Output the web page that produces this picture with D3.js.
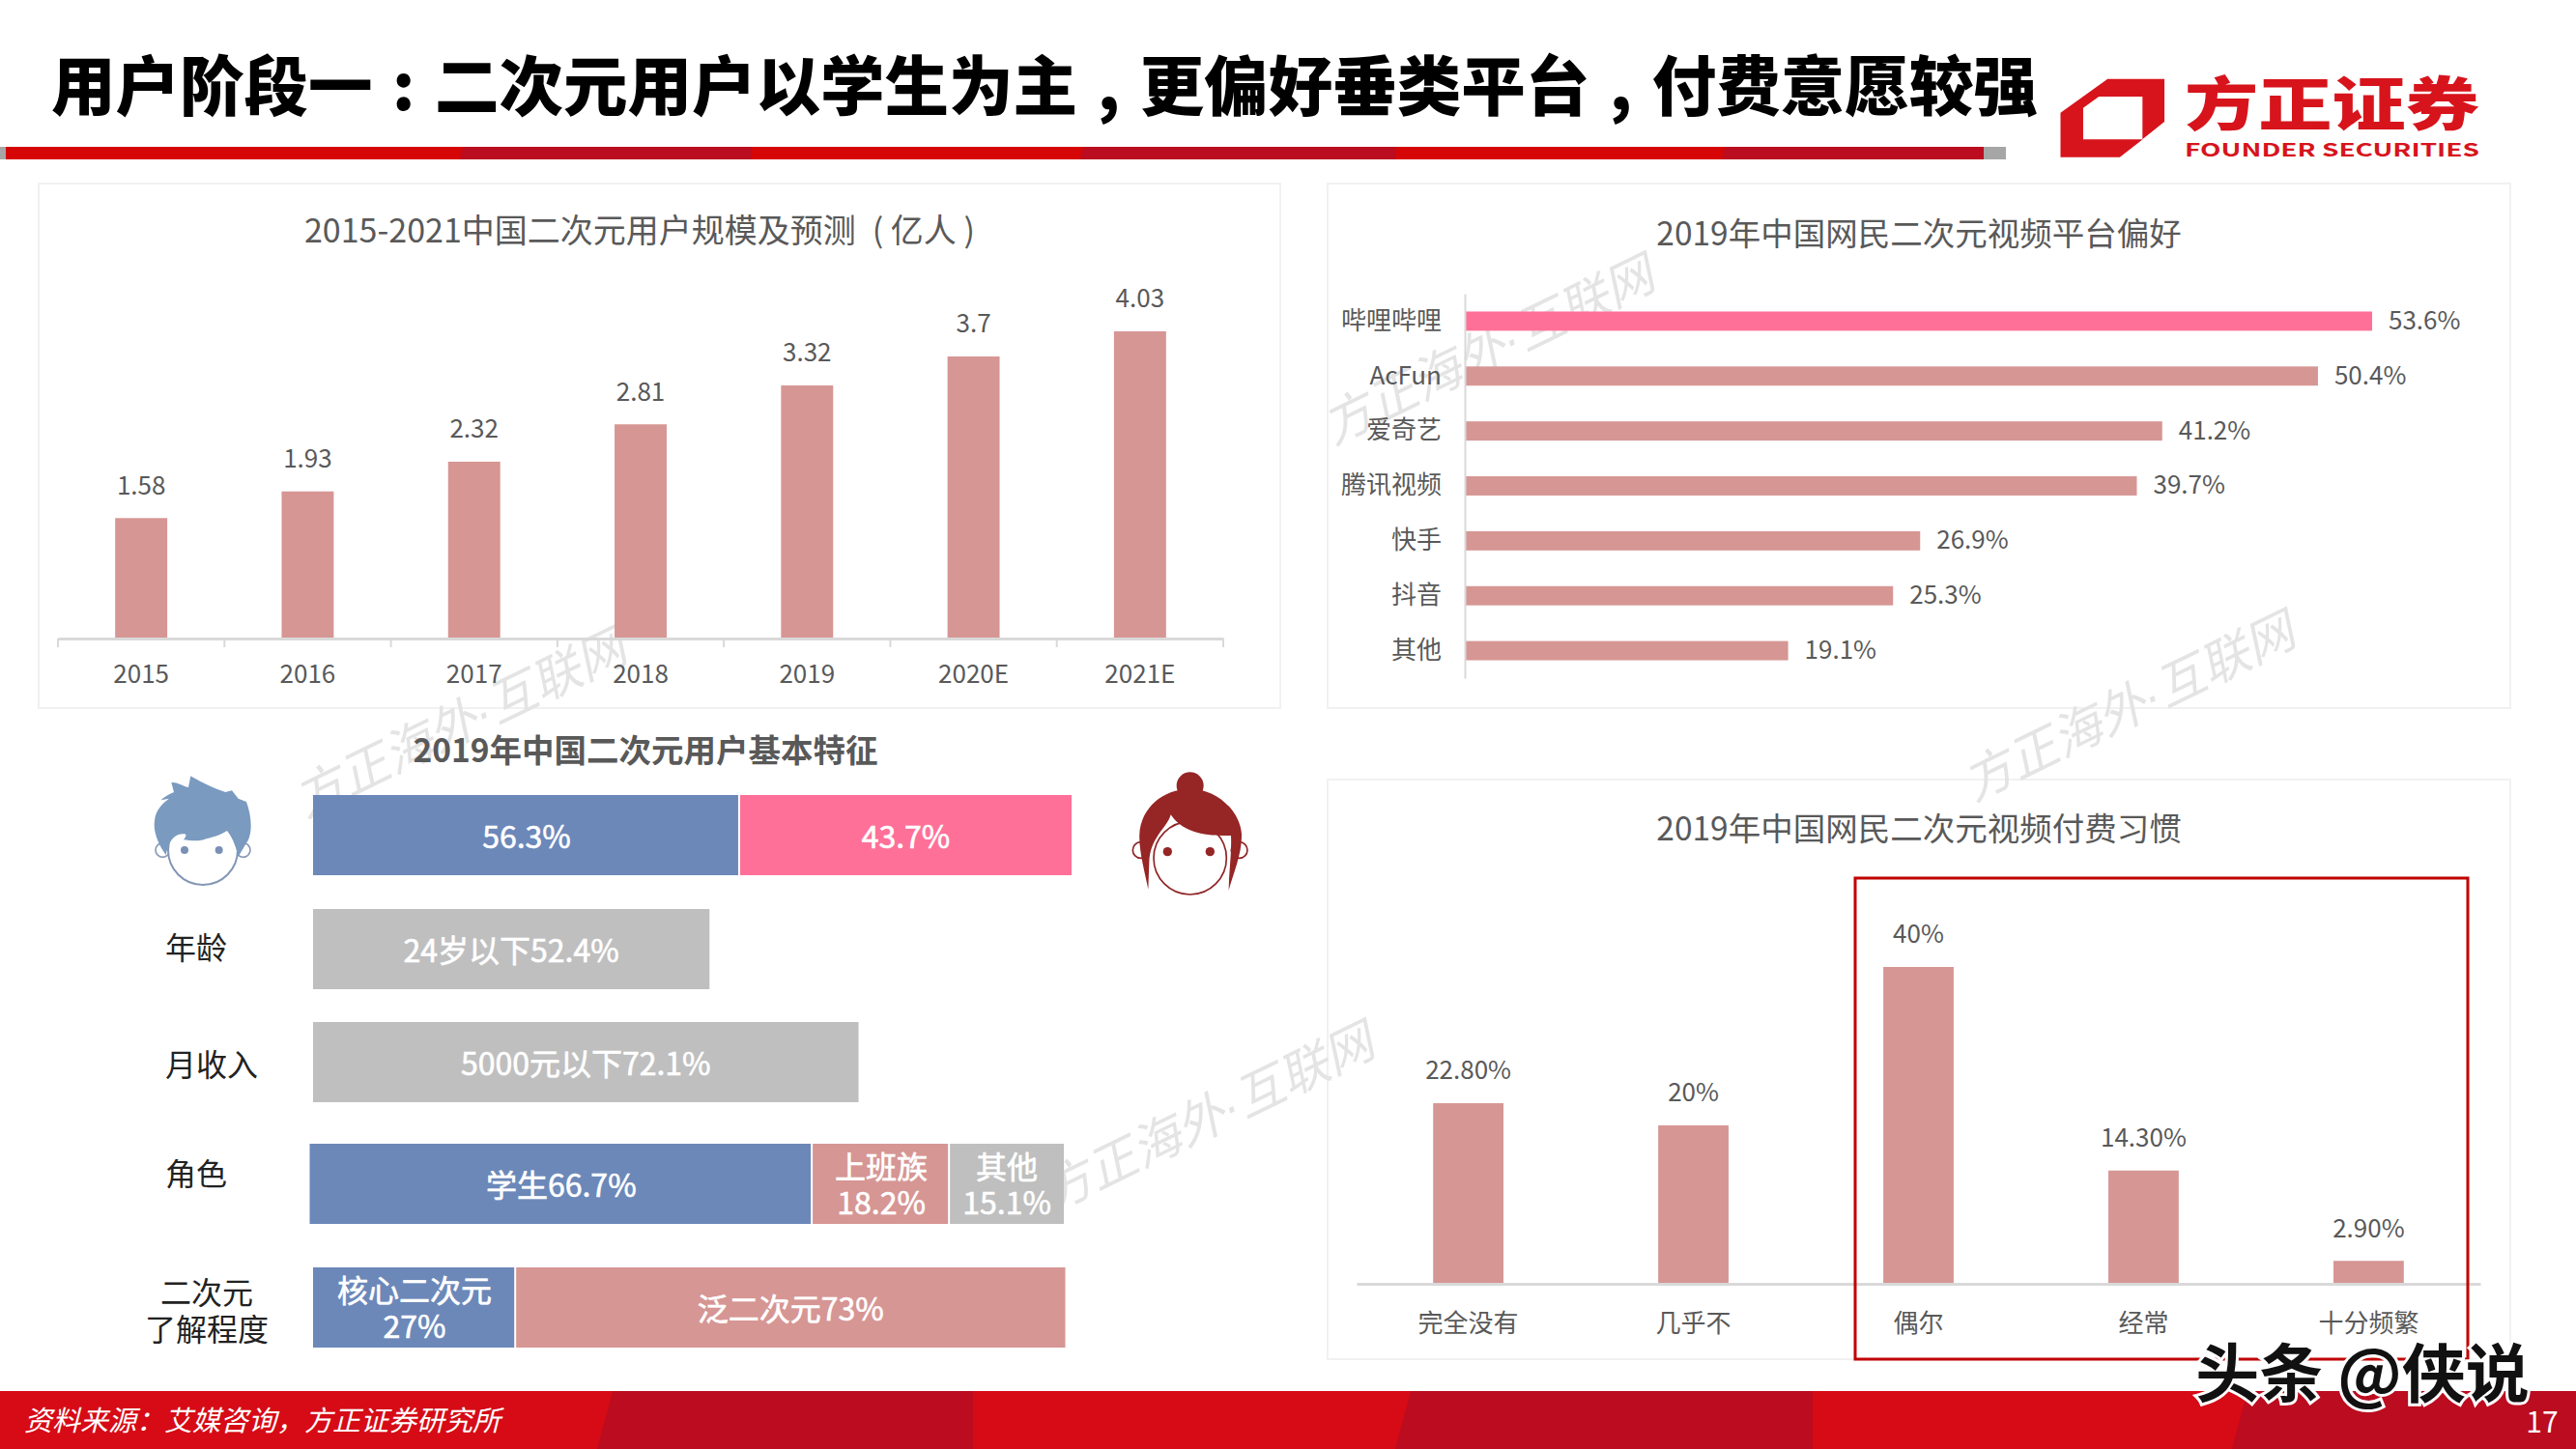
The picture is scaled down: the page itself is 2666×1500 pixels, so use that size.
<!DOCTYPE html>
<html>
<head>
<meta charset="utf-8">
<script src="https://cdn.jsdelivr.net/npm/d3@7/dist/d3.min.js"></script>
<style>
    html, body { margin: 0; padding: 0; background: #fff; }
    svg { display: block; }
    text { font-family: "Noto Sans CJK SC", "Noto Sans", sans-serif; }
</style>
</head>
<body>
<svg id="slide" width="2666" height="1500"></svg>
<script>
// slide title, cut at the punctuation
var titleParts = ["用户阶段一", ":", "二次元用户以学生为主", ",", "更偏好垂类平台", ",", "付费意愿较强"];

// chart 1 - user scale
var scaleYears = ["2015", "2016", "2017", "2018", "2019", "2020E", "2021E"];
var scaleValues = [1.58, 1.93, 2.32, 2.81, 3.32, 3.7, 4.03];

// chart 2 - platform preference
var platformNames = ["哔哩哔哩", "AcFun", "爱奇艺", "腾讯视频", "快手", "抖音", "其他"];
var platformValues = [53.6, 50.4, 41.2, 39.7, 26.9, 25.3, 19.1];

// chart 3 - paying habit
var payNames = ["完全没有", "几乎不", "偶尔", "经常", "十分频繁"];
var payValues = [22.8, 20, 40, 14.3, 2.9];
var payLabels = ["22.80%", "20%", "40%", "14.30%", "2.90%"];

// user profile rows
var profileRows = ["性别", "年龄", "月收入", "角色", "二次元了解程度"];
var genderValues = [56.3, 43.7];
var genderLabels = [["56.3%"], ["43.7%"]];
var ageValues = [52.4];
var ageLabels = [["24岁以下52.4%"]];
var incomeValues = [72.1];
var incomeLabels = [["5000元以下72.1%"]];
var roleValues = [66.7, 18.2, 15.1];
var roleLabels = [["学生66.7%"], ["上班族", "18.2%"], ["其他", "15.1%"]];
var fanValues = [27, 73];
var fanLabels = [["核心二次元", "27%"], ["泛二次元73%"]];

var BAR_PINK = "#d69694";
var BLUE = "#6c88b9";
var HOT_PINK = "#ff7099";
var GREY = "#bfbfbf";
var TEXT = "#595959";
var AXIS = "#d9d9d9";
var RED = "#d60b16";
var DARK_RED = "#bb0c20";

var svg = d3.select("#slide");

function label(parent, x, y, str, size, color, anchor, weight) {
    return parent.append("text")
        .attr("x", x)
        .attr("y", y)
        .attr("dy", "0.36em")
        .attr("font-size", size)
        .attr("fill", color)
        .attr("text-anchor", anchor || "middle")
        .attr("font-weight", weight || 400)
        .text(str);
}

function styleAxis(axisG) {
    axisG.select(".domain").attr("stroke", AXIS).attr("stroke-width", 3);
    axisG.selectAll("text")
        .attr("font-size", 26)
        .attr("font-family", '"Noto Sans CJK SC"')
        .attr("fill", TEXT);
}

// darker band pieces: slanted on the left edge, straight on the right
function drawBands(parent, top, bottom, pieces) {
    parent.selectAll("polygon.band" + top)
        .data(pieces)
        .enter().append("polygon")
        .attr("class", "band" + top)
        .attr("fill", function(d) { return d[2]; })
        .attr("points", function(d) {
            var skew = (bottom - top) * 0.27;
            return [[d[0] + skew, top], [d[1], top], [d[1], bottom], [d[0], bottom]].join(" ");
        });
}

function drawHeader() {
    var title = label(svg, 53, 90, "", 66.5, "#000", "start", 900);
    titleParts.forEach(function(part, i) {
        title.append("tspan")
            .attr("dx", i > 0 ? "0.31em" : 0)
            .text(part);
    });

    svg.append("rect").attr("x", 0).attr("y", 152).attr("width", 2076).attr("height", 13).attr("fill", "#a6a6a6");
    svg.append("rect").attr("x", 6).attr("y", 152).attr("width", 2047).attr("height", 13).attr("fill", "#d60606");
    drawBands(svg, 152, 165, [[476, 778, DARK_RED], [1118, 1445, DARK_RED], [1782, 2053, DARK_RED]]);

    // logo
    var logo = svg.append("g").attr("transform", "translate(2100,50) scale(0.361,0.3333)");
    logo.append("path")
        .attr("fill", "#d7141c")
        .attr("fill-rule", "evenodd")
        .attr("d", "M90,200 L225,95 L388,95 L388,230 L260,338 L90,338 Z M155,185 L200,150 L325,150 L325,283 L155,283 Z");
    logo.append("path").attr("fill", "#fff").attr("d", "M325,283 L388,228 L388,236 L325,290 Z");

    label(svg, 2261, 108, "方正证券", 60, "#d7141c", "start", 900)
        .attr("textLength", 305)
        .attr("lengthAdjust", "spacingAndGlyphs");
    label(svg, 2261, 155, "FOUNDER SECURITIES", 19, "#d7141c", "start", 700)
        .attr("font-family", '"Liberation Sans"')
        .attr("textLength", 305)
        .attr("lengthAdjust", "spacingAndGlyphs");
}

function drawCards() {
    var cards = [[40, 190, 1285, 543], [1374, 190, 1224, 543], [1374, 807, 1224, 600]];
    svg.selectAll("rect.card")
        .data(cards)
        .enter().append("rect")
        .attr("class", "card")
        .attr("x", function(d) { return d[0]; })
        .attr("y", function(d) { return d[1]; })
        .attr("width", function(d) { return d[2]; })
        .attr("height", function(d) { return d[3]; })
        .attr("fill", "none")
        .attr("stroke", "#f1f1f1")
        .attr("stroke-width", 2);
}

function drawWatermarks() {
    var spots = [[1540, 362], [476, 748], [2203, 731], [1250, 1156]];
    var marks = svg.selectAll("text.mark")
        .data(spots)
        .enter().append("text")
        .attr("class", "mark")
        .attr("text-anchor", "middle")
        .attr("dy", "0.36em")
        .attr("font-size", 51)
        .attr("font-style", "italic")
        .attr("fill", "#e4e4e4")
        .attr("transform", function(d) { return "translate(" + d[0] + "," + d[1] + ") rotate(-26)"; });
    marks.append("tspan").text("方正海外");
    // the dot is narrow in the original, the CJK one is full width
    marks.append("tspan").attr("font-family", '"Liberation Sans"').text("·");
    marks.append("tspan").text("互联网");
}

function drawScaleChart() {
    var height = 661;
    var x = d3.scaleBand().domain(scaleYears).range([60, 1266]).paddingInner(0.687).paddingOuter(0.3435);
    var y = d3.scaleLinear().domain([0, 4.03]).range([height, 343]);
    var step = x.step();

    label(svg, 662, 239, "2015-2021中国二次元用户规模及预测\u2002(\u00a0亿人\u00a0)", 34, TEXT);

    svg.selectAll("rect.scale-bar")
        .data(scaleValues)
        .enter().append("rect")
        .attr("class", "scale-bar")
        .attr("x", function(d, i) { return x(scaleYears[i]); })
        .attr("width", x.bandwidth())
        .attr("y", function(d) { return y(d); })
        .attr("height", function(d) { return height - y(d); })
        .attr("fill", BAR_PINK);

    scaleValues.forEach(function(d, i) {
        label(svg, x(scaleYears[i]) + x.bandwidth() / 2, y(d) - 34, String(d), 26, TEXT);
    });

    var axisG = svg.append("g")
        .attr("transform", "translate(0," + height + ")")
        .call(d3.axisBottom(x).tickSize(0).tickPadding(33));
    styleAxis(axisG);
    axisG.selectAll("text").attr("dy", "0.5em");

    // ticks sit on the band edges, not the centres
    axisG.selectAll("line.edge")
        .data(d3.range(scaleYears.length + 1))
        .enter().append("line")
        .attr("class", "edge")
        .attr("x1", function(d) { return 60 + d * step; })
        .attr("x2", function(d) { return 60 + d * step; })
        .attr("y1", 0)
        .attr("y2", 9)
        .attr("stroke", AXIS)
        .attr("stroke-width", 2);
}

function drawPlatformChart() {
    var left = 1516;
    var y = d3.scaleBand().domain(platformNames).range([304, 702]).paddingInner(0.65).paddingOuter(0.325);
    var x = d3.scaleLinear().domain([0, 53.6]).range([left, 2455]);

    label(svg, 1986, 242, "2019年中国网民二次元视频平台偏好", 33.5, TEXT);

    svg.selectAll("rect.platform-bar")
        .data(platformValues)
        .enter().append("rect")
        .attr("class", "platform-bar")
        .attr("x", left)
        .attr("y", function(d, i) { return y(platformNames[i]); })
        .attr("width", function(d) { return x(d) - left; })
        .attr("height", y.bandwidth())
        .attr("fill", function(d, i) { return i === 0 ? HOT_PINK : BAR_PINK; });

    platformValues.forEach(function(d, i) {
        label(svg, x(d) + 17, y(platformNames[i]) + y.bandwidth() / 2 - 1, d.toFixed(1) + "%", 26, TEXT, "start");
    });

    var axisG = svg.append("g")
        .attr("transform", "translate(" + left + ",0)")
        .call(d3.axisLeft(y).tickSize(0).tickPadding(24));
    styleAxis(axisG);
    axisG.select(".domain").attr("stroke-width", 2);
}

function drawPayChart() {
    var height = 1329;
    var x = d3.scaleBand().domain(payNames).range([1404, 2567]).paddingInner(0.6875).paddingOuter(0.34);
    var y = d3.scaleLinear().domain([0, 40]).range([height, 1001]);

    label(svg, 1986, 858, "2019年中国网民二次元视频付费习惯", 33.5, TEXT);

    svg.selectAll("rect.pay-bar")
        .data(payValues)
        .enter().append("rect")
        .attr("class", "pay-bar")
        .attr("x", function(d, i) { return x(payNames[i]); })
        .attr("width", x.bandwidth())
        .attr("y", function(d) { return y(d); })
        .attr("height", function(d) { return height - y(d); })
        .attr("fill", BAR_PINK);

    payValues.forEach(function(d, i) {
        label(svg, x(payNames[i]) + x.bandwidth() / 2, y(d) - 34, payLabels[i], 26, TEXT);
    });

    var axisG = svg.append("g")
        .attr("transform", "translate(0," + height + ")")
        .call(d3.axisBottom(x).tickSize(0).tickPadding(37));
    styleAxis(axisG);
    axisG.selectAll("text").attr("dy", "0.5em");

    svg.append("rect")
        .attr("x", 1920)
        .attr("y", 909)
        .attr("width", 634)
        .attr("height", 498)
        .attr("fill", "none")
        .attr("stroke", "#c00000")
        .attr("stroke-width", 3);
}

function drawProfile() {
    // the original rows are hand placed, so each one has its own start and length
    var rowTop = d3.scaleOrdinal().domain(profileRows).range([823, 941, 1058, 1184, 1312]);
    var rowLeft = d3.scaleOrdinal().domain(profileRows).range([324, 324, 324, 320.5, 324]);
    var rowWidth = d3.scaleOrdinal().domain(profileRows).range([785, 783, 783, 780.5, 778.5]);
    var barHeight = 83;

    var rows = [
        { name: profileRows[0], values: genderValues, labels: genderLabels, colors: [BLUE, HOT_PINK] },
        { name: profileRows[1], values: ageValues, labels: ageLabels, colors: [GREY] },
        { name: profileRows[2], values: incomeValues, labels: incomeLabels, colors: [GREY] },
        { name: profileRows[3], values: roleValues, labels: roleLabels, colors: [BLUE, BAR_PINK, GREY] },
        { name: profileRows[4], values: fanValues, labels: fanLabels, colors: [BLUE, BAR_PINK] }
    ];

    label(svg, 668, 777, "2019年中国二次元用户基本特征", 33.5, TEXT, "middle", 700);

    rows.forEach(function(row) {
        var left = rowLeft(row.name);
        var top = rowTop(row.name);
        var x = d3.scaleLinear().domain([0, 100]).range([left, left + rowWidth(row.name)]);
        var sum = 0;
        row.values.forEach(function(v, i) {
            var start = x(sum);
            var w = x(sum + v) - start;
            sum += v;
            svg.append("rect")
                .attr("x", start)
                .attr("y", top)
                .attr("width", i < row.values.length - 1 ? w - 2 : w)
                .attr("height", barHeight)
                .attr("fill", row.colors[i]);

            var lines = row.labels[i];
            lines.forEach(function(str, k) {
                var cy = top + barHeight / 2 + 1.5 + (k - (lines.length - 1) / 2) * 37;
                label(svg, start + w / 2, cy, str, 32, "#fff")
                    .attr("stroke", "#fff")
                    .attr("stroke-width", 0.6);
            });
        });
    });

    var names = [["年龄", 171, 981, "start"], ["月收入", 171, 1102, "start"], ["角色", 171, 1215, "start"],
        ["二次元", 214, 1338, "middle"], ["了解程度", 214, 1376, "middle"]];
    names.forEach(function(d) {
        label(svg, d[1], d[2], d[0], 32, "#222", d[3]);
    });
}

function drawFaces() {
    var boy = svg.append("g").attr("transform", "translate(100,770) scale(0.3333)");
    boy.selectAll("circle.ear")
        .data([205, 455])
        .enter().append("circle")
        .attr("class", "ear")
        .attr("cx", function(d) { return d; })
        .attr("cy", 330)
        .attr("r", 22)
        .attr("fill", "#fff")
        .attr("stroke", "#8a9ab8")
        .attr("stroke-width", 5);
    boy.append("circle").attr("cx", 330).attr("cy", 330).attr("r", 108)
        .attr("fill", "#fff").attr("stroke", "#8296b5").attr("stroke-width", 6);
    boy.append("path")
        .attr("fill", "#7a9abf")
        .attr("d", "M215,345 C190,310 175,270 180,240 C182,205 205,185 225,170 L200,175 C215,160 230,155 240,150 L232,120 C250,118 265,130 285,135 L292,100 C310,110 340,130 400,150 L420,145 L440,170 L465,180 C480,220 485,270 470,300 L440,350 C430,310 420,290 405,270 C380,285 360,290 340,295 C320,305 290,300 270,298 C280,285 280,280 270,280 C240,280 225,300 215,345 Z");
    boy.selectAll("circle.eye")
        .data([273, 380])
        .enter().append("circle")
        .attr("class", "eye")
        .attr("cx", function(d) { return d; })
        .attr("cy", 330)
        .attr("r", 12)
        .attr("fill", "#7a90b5");

    var girl = svg.append("g").attr("transform", "translate(1120,770) scale(0.3333)");
    girl.selectAll("circle.ear")
        .data([182, 488])
        .enter().append("circle")
        .attr("class", "ear")
        .attr("cx", function(d) { return d; })
        .attr("cy", 330)
        .attr("r", 25)
        .attr("fill", "#fff")
        .attr("stroke", "#8f2323")
        .attr("stroke-width", 5);
    girl.append("circle").attr("cx", 335).attr("cy", 355).attr("r", 113)
        .attr("fill", "#fff").attr("stroke", "#8f2323").attr("stroke-width", 5);
    girl.append("circle").attr("cx", 335).attr("cy", 130).attr("r", 42).attr("fill", "#962525");
    girl.append("path")
        .attr("fill", "#962525")
        .attr("d", "M205,452 C195,400 175,330 178,280 C182,200 250,140 335,140 C420,140 490,210 495,280 C497,340 470,400 455,455 C455,400 465,340 462,285 C420,285 320,290 275,220 C265,260 210,290 208,370 Z");
    girl.selectAll("circle.eye")
        .data([265, 397])
        .enter().append("circle")
        .attr("class", "eye")
        .attr("cx", function(d) { return d; })
        .attr("cy", 335)
        .attr("r", 14)
        .attr("fill", "#962525");
}

function drawFooter() {
    svg.append("rect").attr("x", 0).attr("y", 1440).attr("width", 2666).attr("height", 60).attr("fill", RED);
    drawBands(svg, 1440, 1500, [[618, 1007, DARK_RED], [1444, 1876, DARK_RED], [2310, 2666, DARK_RED]]);

    label(svg, 25, 1471, "资料来源：艾媒咨询，方正证券研究所", 29, "#fff", "start")
        .attr("font-style", "italic");
    label(svg, 2631, 1472, "17", 30, "#fff");

    // site stamp over the footer
    label(svg, 2445, 1422, "头条 @侠说", 66, "#111", "middle", 700)
        .attr("stroke", "#fff")
        .attr("stroke-width", 6)
        .attr("paint-order", "stroke");
}

drawCards();
drawWatermarks();
drawHeader();
drawScaleChart();
drawPlatformChart();
drawPayChart();
drawProfile();
drawFaces();
drawFooter();
</script>
</body>
</html>
